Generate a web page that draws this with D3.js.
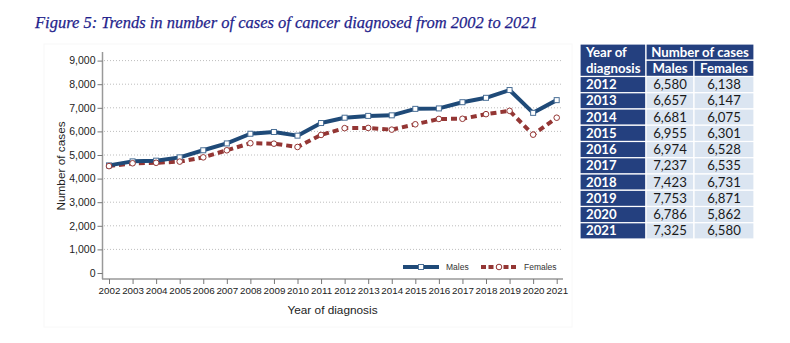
<!DOCTYPE html>
<html><head><meta charset="utf-8">
<script src="https://cdn.jsdelivr.net/npm/d3@7"></script>
<style>body{margin:0;background:#fff;}svg{display:block;}</style>
</head><body>
<svg id="c" width="790" height="343"></svg>
<script>
const years = [2002,2003,2004,2005,2006,2007,2008,2009,2010,2011,2012,2013,2014,2015,2016,2017,2018,2019,2020,2021];
const males = [4560,4730,4760,4900,5200,5490,5900,5975,5820,6355,6580,6657,6681,6955,6974,7237,7423,7753,6786,7325];
const females = [4530,4650,4670,4720,4900,5200,5500,5480,5340,5850,6138,6147,6075,6301,6528,6535,6731,6871,5862,6580];
const yTicks = [0,1000,2000,3000,4000,5000,6000,7000,8000,9000];
const tableYears = [2012,2013,2014,2015,2016,2017,2018,2019,2020,2021];
const tableMales = [6580,6657,6681,6955,6974,7237,7423,7753,6786,7325];
const tableFemales = [6138,6147,6075,6301,6528,6535,6731,6871,5862,6580];
const title = "Figure 5: Trends in number of cases of cancer diagnosed from 2002 to 2021";

const svg = d3.select("#c");
const fmt = d3.format(",");
const BLUE = "#1f4a78", RED = "#943634", NAVY = "#24407f", CELL = "#dbe5f1";

svg.append("text").attr("x",35).attr("y",28)
  .attr("font-family","Liberation Serif, serif").attr("font-style","italic")
  .attr("font-size",16.5).attr("fill","#1f1f8c").attr("stroke","#1f1f8c").attr("stroke-width",0.25).text(title);

// faint graph frame
svg.append("rect").attr("x",44).attr("y",44).attr("width",528).attr("height",283)
  .attr("fill","none").attr("stroke","#f8f8f8").attr("stroke-width",1);

const x = d3.scalePoint().domain(years).range([109,556.7]);
const y = d3.scaleLinear().domain([0,9000]).range([273,60.6]);

// gridlines
svg.append("g").selectAll("line").data(yTicks.filter(d=>d>0)).join("line")
  .attr("x1",104).attr("x2",562).attr("y1",d=>y(d)).attr("y2",d=>y(d))
  .attr("stroke","#bdbdbd").attr("stroke-width",1).attr("stroke-dasharray","1,2");

// y axis
const ya = svg.append("g").attr("transform","translate(102.5,0)")
  .call(d3.axisLeft(y).tickValues(yTicks).tickFormat(fmt).tickSize(5).tickPadding(2));
ya.select(".domain").attr("stroke","#999").attr("stroke-width",1.5).attr("d","M0,52V279");
ya.selectAll(".tick line").attr("stroke","#777");
ya.selectAll("text").attr("font-family","Liberation Sans, Arial, sans-serif").attr("font-size",10.5).attr("fill","#222");

// x axis
const xa = svg.append("g").attr("transform","translate(0,279)")
  .call(d3.axisBottom(x).tickSize(5).tickPadding(3));
xa.select(".domain").attr("stroke","#999").attr("stroke-width",1.5).attr("d","M102,0H563");
xa.selectAll(".tick line").attr("stroke","#777");
xa.selectAll("text").attr("font-family","Liberation Sans, Arial, sans-serif").attr("font-size",9.8).attr("fill","#222");

svg.append("text").attr("x",332.5).attr("y",314).attr("text-anchor","middle")
  .attr("font-family","Liberation Sans, Arial, sans-serif").attr("font-size",11.8).attr("fill","#222")
  .text("Year of diagnosis");
svg.append("text").attr("transform","translate(65,166) rotate(-90)").attr("text-anchor","middle")
  .attr("font-family","Liberation Sans, Arial, sans-serif").attr("font-size",11.8).attr("fill","#222")
  .text("Number of cases");

const line = d3.line().x((d,i)=>x(years[i])).y(d=>y(d));
svg.append("path").datum(females).attr("d",line).attr("fill","none")
  .attr("stroke",RED).attr("stroke-width",4).attr("stroke-dasharray","6,4");
svg.append("path").datum(males).attr("d",line).attr("fill","none")
  .attr("stroke",BLUE).attr("stroke-width",4).attr("stroke-linejoin","round");
svg.append("g").selectAll("rect").data(males).join("rect")
  .attr("x",(d,i)=>x(years[i])-2.5).attr("y",d=>y(d)-2.5).attr("width",5).attr("height",5)
  .attr("fill","#fff").attr("stroke","#4a6f96").attr("stroke-width",1);
svg.append("g").selectAll("circle").data(females).join("circle")
  .attr("cx",(d,i)=>x(years[i])).attr("cy",d=>y(d)).attr("r",2.8)
  .attr("fill","#fff").attr("stroke",RED).attr("stroke-width",1);

// legend
const lg = svg.append("g");
lg.append("line").attr("x1",403).attr("x2",439).attr("y1",267).attr("y2",267).attr("stroke",BLUE).attr("stroke-width",4);
lg.append("rect").attr("x",418.5).attr("y",264.5).attr("width",5).attr("height",5).attr("fill","#fff").attr("stroke","#4a6f96");
lg.append("text").attr("x",446).attr("y",270).attr("font-family","Liberation Sans, Arial, sans-serif").attr("font-size",8.5).attr("fill","#333").text("Males");
lg.append("line").attr("x1",481).attr("x2",518).attr("y1",267).attr("y2",267).attr("stroke",RED).attr("stroke-width",4).attr("stroke-dasharray","5,2.5");
lg.append("circle").attr("cx",499).attr("cy",267).attr("r",2.8).attr("fill","#fff").attr("stroke",RED);
lg.append("text").attr("x",524).attr("y",270).attr("font-family","Liberation Sans, Arial, sans-serif").attr("font-size",8.5).attr("fill","#333").text("Females");

// table
const tx = [580,646,694,754];
const rh = 16.25, ty0 = 44;
const tg = svg.append("g").attr("font-family","Lato, Open Sans, sans-serif").attr("font-size",13.2);
const cellRect = (x0,x1,r0,r1,fill)=>tg.append("rect").attr("x",x0).attr("y",ty0+r0*rh)
  .attr("width",x1-x0).attr("height",(r1-r0)*rh).attr("fill",fill).attr("stroke","#fff").attr("stroke-width",1.2);
cellRect(tx[0],tx[1],0,2,NAVY);
cellRect(tx[1],tx[3],0,1,NAVY);
cellRect(tx[1],tx[2],1,2,NAVY);
cellRect(tx[2],tx[3],1,2,NAVY);
tableYears.forEach((yr,i)=>{
  cellRect(tx[0],tx[1],i+2,i+3,NAVY);
  cellRect(tx[1],tx[2],i+2,i+3,CELL);
  cellRect(tx[2],tx[3],i+2,i+3,CELL);
});
const tt = (xx,r,s,anchor,fill,bold)=>tg.append("text").attr("x",xx).attr("y",ty0+r*rh+12.6)
  .attr("text-anchor",anchor).attr("fill",fill).attr("font-weight",bold?"bold":"normal").text(s);
tt(586,0,"Year of","start","#fff",true);
tt(586,1,"diagnosis","start","#fff",true);
tt((tx[1]+tx[3])/2,0,"Number of cases","middle","#fff",true);
tt((tx[1]+tx[2])/2,1,"Males","middle","#fff",true);
tt((tx[2]+tx[3])/2,1,"Females","middle","#fff",true);
tableYears.forEach((yr,i)=>{
  tt(586,i+2,String(yr),"start","#fff",true);
  tt((tx[1]+tx[2])/2,i+2,fmt(tableMales[i]),"middle","#1a1a1a",false);
  tt((tx[2]+tx[3])/2,i+2,fmt(tableFemales[i]),"middle","#1a1a1a",false);
});
</script>
</body></html>
